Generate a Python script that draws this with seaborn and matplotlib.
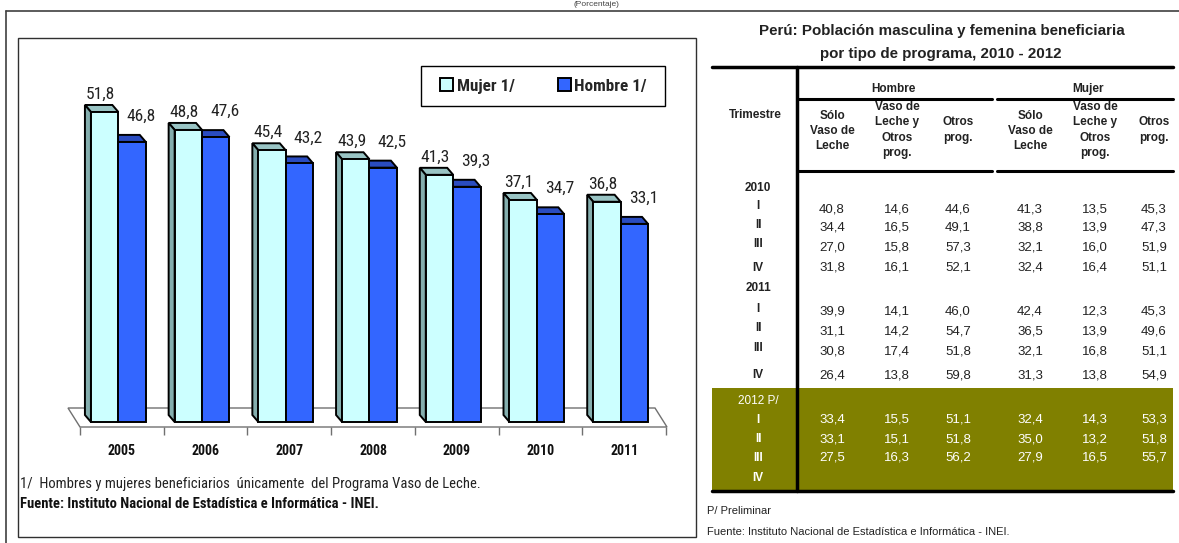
import numpy as np
import pandas as pd
import matplotlib
matplotlib.use("Agg")
import matplotlib.pyplot as plt
import seaborn as sns
from matplotlib import font_manager as fm
from matplotlib.patches import Polygon, Rectangle, Patch

# === Data
anios = ['2005', '2006', '2007', '2008', '2009', '2010', '2011']
mujer = [51.8, 48.8, 45.4, 43.9, 41.3, 37.1, 36.8]
hombre = [46.8, 47.6, 43.2, 42.5, 39.3, 34.7, 33.1]
series = ['Mujer 1/', 'Hombre 1/']

columnas = ['Sólo\nVaso de\nLeche', 'Vaso de\nLeche y\nOtros\nprog.', 'Otros\nprog.']
romanos = ['I', 'II', 'III', 'IV']
tabla_2010 = [[40.8, 14.6, 44.6, 41.3, 13.5, 45.3],
              [34.4, 16.5, 49.1, 38.8, 13.9, 47.3],
              [27.0, 15.8, 57.3, 32.1, 16.0, 51.9],
              [31.8, 16.1, 52.1, 32.4, 16.4, 51.1]]
tabla_2011 = [[39.9, 14.1, 46.0, 42.4, 12.3, 45.3],
              [31.1, 14.2, 54.7, 36.5, 13.9, 49.6],
              [30.8, 17.4, 51.8, 32.1, 16.8, 51.1],
              [26.4, 13.8, 59.8, 31.3, 13.8, 54.9]]
tabla_2012 = [[33.4, 15.5, 51.1, 32.4, 14.3, 53.3],
              [33.1, 15.1, 51.8, 35.0, 13.2, 51.8],
              [27.5, 16.3, 56.2, 27.9, 16.5, 55.7]]

# === Fonts: look for a narrow sans face, else DejaVu
sns.set_style('white')
nombres = {f.name for f in fm.fontManager.ttflist}
ARIAL = 'Liberation Sans' if 'Liberation Sans' in nombres else 'DejaVu Sans'
plt.rcParams['font.family'] = [ARIAL, 'DejaVu Sans']

def peso(f):
    w = f.weight
    if isinstance(w, str):
        w = {'normal': 400, 'regular': 400, 'book': 400, 'medium': 500,
             'semibold': 600, 'bold': 700, 'heavy': 800, 'black': 900}.get(w.lower(), 400)
    return int(w)

def narrow_font(bold):
    pref = ['Liberation Sans Narrow', 'Arial Narrow', 'Roboto Condensed', 'Open Sans Condensed',
            'Noto Sans', 'DejaVu Sans', 'Lato', 'Inter', 'Roboto', 'Open Sans']
    best, rank = None, 99
    for f in fm.fontManager.ttflist:
        nm, st = f.name, str(f.stretch).lower()
        cond = 'Narrow' in nm or 'Condensed' in nm or st in ('condensed', 'semi-condensed')
        if not cond or f.style != 'normal':
            continue
        if any(b in nm for b in ('Serif', 'Mono', 'CJK', 'Extra', 'Ultra')):
            continue
        w = peso(f)
        if (bold and w != 700) or (not bold and w != 400):
            continue
        r = next((i for i, p in enumerate(pref) if nm.startswith(p)), 50)
        if r < rank:
            best, rank = f, r
    if best is None:
        return fm.FontProperties(family='DejaVu Sans', weight='bold' if bold else 'normal')
    return fm.FontProperties(fname=best.fname)

FP_N = narrow_font(False)
FP_B = narrow_font(True)

W, H = 1179, 543
fig = plt.figure(figsize=(W / 100, H / 100), dpi=100)
rend = fig.canvas.get_renderer()

# overlay in pixel coordinates (y down)
ov = fig.add_axes([0, 0, 1, 1])
ov.set_xlim(0, W)
ov.set_ylim(H, 0)
ov.axis('off')

def fit(fp, texto, ancho, maximo=30):
    p = fp.copy()
    p.set_size(10)
    t = ov.text(0, 0, texto, fontproperties=p)
    w = t.get_window_extent(renderer=rend).width
    t.remove()
    q = fp.copy()
    q.set_size(min(maximo, 10 * ancho / w))
    return q

def fmt(v):
    return f"{v:.1f}".replace('.', ',')

# === Frames
ov.plot([6, W], [11, 11], color='#404040', lw=1.2)
ov.plot([6, 6], [11, H], color='#404040', lw=1.2)
ov.add_patch(Rectangle((18, 38), 678, 499, fill=False, ec='#303030', lw=1.0))
ov.text(596, 5, '(Porcentaje)', ha='center', va='center', fontsize=6, color='#444444')

# === Bar chart
ax_l, ax_r, ax_t, ax_b = 80, 666, 63, 427
ax = fig.add_axes([ax_l / W, 1 - ax_b / H, (ax_r - ax_l) / W, (ax_b - ax_t) / H])
ax.patch.set_alpha(0)
ppx = (ax_r - ax_l) / 7.0
ppy = 5.985
y_lo = -5 / ppy
y_hi = y_lo + (ax_b - ax_t) / ppy

df = pd.DataFrame({'anio': anios * 2,
                   'serie': [series[0]] * len(anios) + [series[1]] * len(anios),
                   'valor': mujer + hombre})
front = {series[0]: '#CCFFFF', series[1]: '#3366FF'}
tops = {series[0]: '#99C4C4', series[1]: '#2A4CC0'}
sides = {series[0]: '#84AEAE', series[1]: '#2040A0'}

sns.barplot(data=df, x='anio', y='valor', hue='serie', hue_order=series,
            palette=front, saturation=1, width=0.655, edgecolor='black', linewidth=1.4,
            legend=False, ax=ax, zorder=3)

fp_val = fit(FP_N, '51,8', 29, maximo=13)
ddx, ddy = -6 / ppx, 7 / ppy
for cont, name in zip(ax.containers, series):
    for bar in cont:
        bar.set_x(bar.get_x() - 0.042)
        x0, x1, h = bar.get_x(), bar.get_x() + bar.get_width(), bar.get_height()
        ax.add_patch(Polygon([(x0, h), (x1, h), (x1 + ddx, h + ddy), (x0 + ddx, h + ddy)],
                             closed=True, fc=tops[name], ec='black', lw=1.4, zorder=2))
        ax.add_patch(Polygon([(x0, 0), (x0, h), (x0 + ddx, h + ddy), (x0 + ddx, ddy)],
                             closed=True, fc=sides[name], ec='black', lw=1.4, zorder=2))
        xc = (x0 + x1) / 2
        off = (-4, 13) if name == series[0] else (9, 21)
        ax.annotate(fmt(h), (xc, h), xytext=off, textcoords='offset pixels',
                    ha='center', va='baseline', fontproperties=fp_val, color='#222222')

# floor
fl_back = y_lo + 19 / ppy
ax.add_patch(Polygon([(-0.5, y_lo), (6.5 + 1 / ppx, y_lo), (6.5 - 11 / ppx, fl_back),
                      (-0.5 - 12 / ppx, fl_back)], closed=True, fc='white',
                     ec='#707070', lw=1.0, zorder=1, clip_on=False))

ax.set_xlim(-0.5, 6.5)
ax.set_ylim(y_lo, y_hi)
ax.set_yticks([])
ax.set_xticks(range(len(anios)))
fp_tick = fit(FP_B, '2005', 28, maximo=12)
ax.set_xticklabels(anios)
for lab in ax.get_xticklabels():
    lab.set_fontproperties(fp_tick)
    lab.set_color('#111111')
ax.set_xticks(np.arange(-0.5, 7, 1.0), minor=True)
ax.tick_params(axis='x', which='major', length=0, pad=12)
ax.tick_params(axis='x', which='minor', length=6, color='#707070', width=1.0, bottom=True)
ax.set_xlabel('')
ax.set_ylabel('')
for s in ax.spines.values():
    s.set_visible(False)

# legend
ov.add_patch(Rectangle((421, 66), 244, 40, fc='white', ec='black', lw=1.0))
fp_leg = fit(FP_B, 'Mujer 1/', 58, maximo=14)
fs_px = fp_leg.get_size_in_points() * 100 / 72
handles = [Patch(fc=front[s], ec='black', lw=1.4) for s in series]
leg = ax.legend(handles, series, ncol=2, loc='center', mode='expand',
                bbox_to_anchor=(440 / W, 1 - 96 / H, 207 / W, 20 / H),
                bbox_transform=fig.transFigure, frameon=False, borderpad=0, borderaxespad=0,
                handlelength=13 / fs_px, handleheight=13 / fs_px, handletextpad=4 / fs_px,
                columnspacing=1.0, prop=fp_leg)

nota = '1/  Hombres y mujeres beneficiarios  únicamente  del Programa Vaso de Leche.'
fuente = 'Fuente: Instituto Nacional de Estadística e Informática - INEI.'
ov.text(20, 484, nota, ha='left', va='center', color='#222222',
        fontproperties=fit(FP_N, nota, 488, 10.5))
ov.text(20, 504, fuente, ha='left', va='center', color='#111111',
        fontproperties=fit(FP_B, fuente, 400, 10.5))

# === Table (right panel)
tx0, tx1, tsep = 712, 1173, 797
fp_tit = fit(fm.FontProperties(family=[ARIAL, 'DejaVu Sans'], weight='bold'),
             'Perú: Población masculina y femenina beneficiaria', 365, 11)
ov.text(942, 31, 'Perú: Población masculina y femenina beneficiaria', ha='center', va='center',
        fontproperties=fp_tit, color='#222222')
ov.text(941, 54, 'por tipo de programa, 2010 - 2012', ha='center', va='center',
        fontproperties=fp_tit, color='#222222')
ov.plot([tx0, tx1], [67, 67], color='black', lw=2.5)
ov.plot([tsep, tsep], [67, 491], color='black', lw=2.5)
for y in (99, 171):
    ov.plot([tsep, 992], [y, y], color='black', lw=2.2)
    ov.plot([997, tx1], [y, y], color='black', lw=2.2)
hdr = dict(ha='center', va='center', fontsize=8.5, fontweight='bold', color='#222222')
ov.text(893, 89, 'Hombre', **hdr)
ov.text(1088, 89, 'Mujer', **hdr)
ov.text(755, 115, 'Trimestre', **hdr)

col_x = [832, 897, 958, 1030, 1095, 1154]
col_y = [131, 130, 130]
for i, x in enumerate(col_x):
    ov.text(x, col_y[i % 3], columnas[i % 3], linespacing=1.35, **hdr)

ov.add_patch(Rectangle((tx0, 388), tx1 - tx0, 491 - 388, fc='#808000', ec='none', zorder=0))
ov.plot([tx0, tx1], [491, 491], color='black', lw=2.5)

bloques = [('2010', 188, tabla_2010, [209, 228, 247, 268], '#222222'),
           ('2011', 288, tabla_2011, [312, 331, 351, 375], '#222222'),
           ('2012 P/', 401, tabla_2012, [420, 439, 458, 478], 'white')]
for anio, ya, filas, ys, col in bloques:
    ov.text(758, ya, anio, ha='center', va='center', fontsize=8.5,
            fontweight='bold' if col != 'white' else 'normal', color=col)
    for j, rom in enumerate(romanos):
        ov.text(758, ys[j] - (3 if col != 'white' and j < 3 else 0), rom, ha='center', va='center',
                fontsize=8.5, fontweight='bold', color=col)
        if j < len(filas):
            for x, v in zip(col_x, filas[j]):
                ov.text(x, ys[j], fmt(v), ha='center', va='center', fontsize=9.5, color=col)

ov.text(707, 511, 'P/ Preliminar', ha='left', va='center', fontsize=8, color='#222222')
ov.text(707, 532, 'Fuente: Instituto Nacional de Estadística e Informática - INEI.',
        ha='left', va='center', fontsize=8, color='#222222')

fig.savefig('out.png', dpi=100)
